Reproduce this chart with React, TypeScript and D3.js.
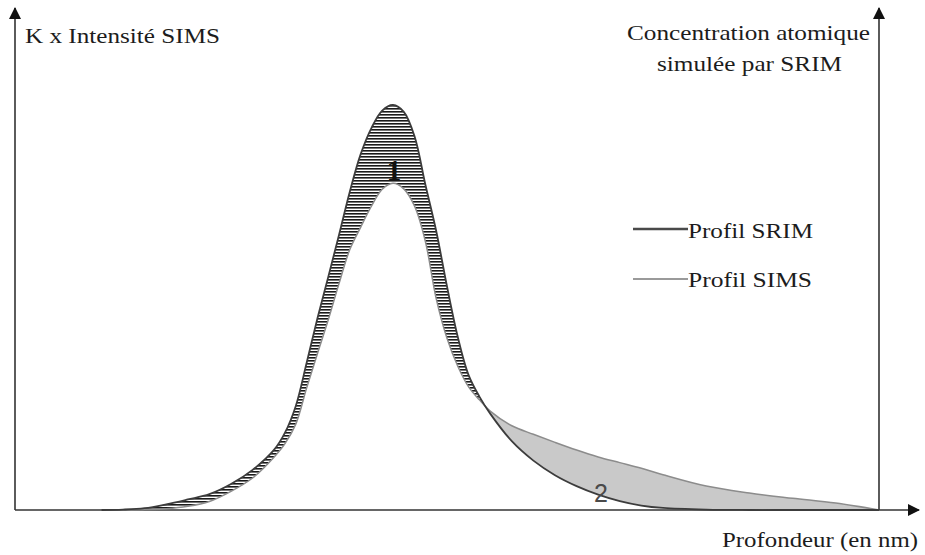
import React from "react";
import * as d3 from "d3";

// Depth grid (nm, schematic) and profile values (relative units, SRIM peak = 100)
const depth = [20, 25, 30, 35, 40, 45, 50, 55, 60, 62.5, 65, 67.5, 70, 72.5, 75, 77.5, 80, 82.5, 85, 87.5, 90, 92.5, 95, 97.5, 100, 102.5, 105, 107.5, 110, 115, 120, 125, 130, 135, 140, 145, 150, 160, 170, 180, 190, 200];
const srim = [0, 0.1, 0.45, 1.4, 2.6, 3.9, 6.4, 9.9, 14.9, 19.1, 25.7, 36.3, 47.3, 57.5, 67.9, 78.6, 87.8, 94.3, 98.6, 100, 98.3, 92.2, 80.3, 68.9, 55.2, 42.7, 33.3, 28.0, 23.8, 17.0, 12.2, 8.6, 5.9, 3.8, 2.2, 1.1, 0.5, 0.1, 0, 0, 0, 0];
const sims = [0, 0, 0.1, 0.3, 0.9, 2.1, 4.6, 7.9, 13.1, 16.4, 21.2, 30.1, 38.6, 46.9, 55.9, 64.3, 69.8, 75.0, 79.2, 80.7, 79.3, 75.0, 66.3, 52.2, 42.4, 35.5, 30.4, 27.2, 24.4, 20.8, 18.7, 16.7, 14.8, 13.1, 11.7, 10.3, 8.7, 5.9, 4.2, 2.9, 1.7, 0];

const yLabelLeft = "K x Intensité SIMS";
const yLabelRight = ["Concentration atomique", "simulée par SRIM"];
const xLabel = "Profondeur (en nm)";
const legendItems = ["Profil SRIM", "Profil SIMS"];
const regionLabels = ["1", "2"];

const W = 925;
const H = 555;

export default function App() {
  const x = d3.scaleLinear().domain([0, 200]).range([15, 879]);
  const y = d3.scaleLinear().domain([0, 100]).range([510, 105]);

  const rows = depth.map((d, i) => ({ d, a: srim[i], b: sims[i] }));
  const curve = d3.curveCatmullRom.alpha(0.5);

  const lineSrim = d3.line<any>().x((r) => x(r.d)).y((r) => y(r.a)).curve(curve);
  const lineSims = d3.line<any>().x((r) => x(r.d)).y((r) => y(r.b)).curve(curve);
  const area1 = d3
    .area<any>()
    .x((r) => x(r.d))
    .y0((r) => y(r.b))
    .y1((r) => y(Math.max(r.a, r.b)))
    .curve(curve);
  const area2 = d3
    .area<any>()
    .x((r) => x(r.d))
    .y0((r) => y(r.a))
    .y1((r) => y(Math.max(r.a, r.b)))
    .curve(curve);

  const x0 = x(0);
  const xEnd = x(200);
  const yBase = y(0);

  const serif = "'Liberation Serif', 'Times New Roman', Times, serif";
  const textStyle = { fontFamily: serif, fontSize: 21, fill: "#1c1c1c" };

  return (
    <svg
      width={W}
      height={H}
      style={{ position: "absolute", left: 0, top: 0, background: "#fff" }}
    >
      <defs>
        <pattern id="hatch" width="4" height="3" patternUnits="userSpaceOnUse">
          <rect width="4" height="3" fill="#fff" />
          <rect width="4" height="1.6" fill="#1a1a1a" />
        </pattern>
        <marker id="arrow" viewBox="0 0 12 12" refX="11" refY="6" markerWidth="12" markerHeight="12" markerUnits="userSpaceOnUse" orient="auto">
          <path d="M0,0 L12,6 L0,12 Z" fill="#111" />
        </marker>
      </defs>

      {/* filled regions */}
      <path d={area2(rows) || ""} fill="#c9c9c9" stroke="none" />
      <path d={area1(rows) || ""} fill="url(#hatch)" stroke="none" />

      {/* axes */}
      <line x1={x0} y1={yBase} x2={x0} y2={8} stroke="#333" strokeWidth={1.6} markerEnd="url(#arrow)" />
      <line x1={xEnd} y1={yBase} x2={xEnd} y2={8} stroke="#333" strokeWidth={1.6} markerEnd="url(#arrow)" />
      <line x1={x0} y1={yBase} x2={919} y2={yBase} stroke="#333" strokeWidth={1.6} markerEnd="url(#arrow)" />

      {/* profiles */}
      <path d={lineSims(rows) || ""} fill="none" stroke="#8c8c8c" strokeWidth={1.5} />
      <path d={lineSrim(rows) || ""} fill="none" stroke="#3c3c3c" strokeWidth={1.8} />

      {/* region labels */}
      <text x={394} y={180} textAnchor="middle" fontFamily={serif} fontSize={29} fontWeight="bold" fill="#111">{regionLabels[0]}</text>
      <text x={601} y={502} textAnchor="middle" fontFamily="'Liberation Sans', Arial, sans-serif" fontSize={25} fill="#4a4a4a">{regionLabels[1]}</text>

      {/* axis titles */}
      <text x={25} y={43} textLength={195} lengthAdjust="spacingAndGlyphs" style={textStyle}>{yLabelLeft}</text>
      <text x={627} y={40} textLength={243} lengthAdjust="spacingAndGlyphs" style={textStyle}>{yLabelRight[0]}</text>
      <text x={657} y={71} textLength={185} lengthAdjust="spacingAndGlyphs" style={textStyle}>{yLabelRight[1]}</text>
      <text x={722} y={547} textLength={196} lengthAdjust="spacingAndGlyphs" style={textStyle}>{xLabel}</text>

      {/* legend */}
      <line x1={633} x2={688} y1={229} y2={229} stroke="#4a4a4a" strokeWidth={2.5} />
      <text x={688} y={238} textLength={125} lengthAdjust="spacingAndGlyphs" style={textStyle}>{legendItems[0]}</text>
      <line x1={633} x2={688} y1={279} y2={279} stroke="#9a9a9a" strokeWidth={2} />
      <text x={688} y={287} textLength={124} lengthAdjust="spacingAndGlyphs" style={textStyle}>{legendItems[1]}</text>
    </svg>
  );
}
